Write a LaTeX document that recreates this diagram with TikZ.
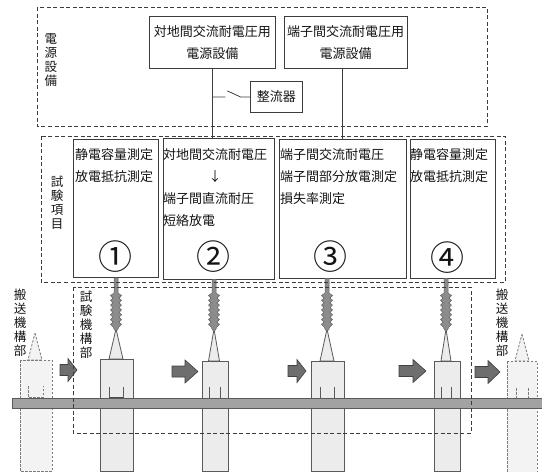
\documentclass[tikz,border=0pt]{standalone}
\usepackage{fontspec}
\setmainfont{Noto Sans CJK JP}
\usetikzlibrary{positioning}

\definecolor{boxline}{HTML}{3C3C3C}
\definecolor{partline}{HTML}{5A5A5A}
\definecolor{partfill}{HTML}{ECECEC}
\definecolor{ghostfill}{HTML}{F3F3F3}
\definecolor{railfill}{HTML}{A2A2A2}
\definecolor{insfill}{HTML}{8C8C8C}
\definecolor{pushfill}{HTML}{6E6E6E}

\begin{document}
\begin{tikzpicture}[x=1pt, y=-1pt, node distance=4pt,
  every node/.style={font=\fontsize{13}{22}\selectfont, text=black!92},
  pwbox/.style={rectangle, draw=boxline, line width=0.8pt, fill=white, align=center, inner sep=0pt},
  itembox/.style={rectangle, draw=boxline, line width=0.8pt, inner sep=0pt},
  itemtext/.style={align=left, inner sep=0pt, anchor=north west},
  vlabel/.style={align=center, inner sep=0pt, font=\fontsize{12.5}{14}\selectfont},
  numtext/.style={inner sep=0pt, font=\fontsize{34}{34}\selectfont},
  group/.style={draw=boxline, line width=0.8pt, dash pattern=on 4pt off 2.5pt},
  wire/.style={draw=boxline, line width=0.8pt},
  part/.style={draw=partline, fill=partfill, line width=0.8pt},
  ghost/.style={draw=partline!80, fill=ghostfill, line width=0.8pt, dash pattern=on 2.5pt off 1.5pt},
  push/.style={draw=black!75, fill=pushfill, line width=0.6pt}]
\useasboundingbox (0,0) rectangle (542,472);

% power supplies
\node[pwbox, minimum width=126pt, minimum height=52pt, anchor=north west] (acpw) at (149,16) {対地間交流耐電圧用\\電源設備};
\node[pwbox, minimum width=123pt, minimum height=52pt, right=8pt of acpw] (tpw) {端子間交流耐電圧用\\電源設備};
\node[pwbox, minimum width=52pt, minimum height=31pt, anchor=north west] (rect) at (250,81) {整流器};

% test stations
\node[itembox, minimum width=85pt, minimum height=138pt, anchor=north west] (item1) at (73,139) {};
\node[itembox, minimum width=111pt, minimum height=141pt, right=of item1] (item2) {};
\node[itembox, minimum width=127pt, minimum height=139pt, right=of item2] (item3) {};
\node[itembox, minimum width=85pt, minimum height=139pt, right=of item3] (item4) {};

\node[itemtext] (txt1) at (75,148) {静電容量測定\\放電抵抗測定};
\node[itemtext] (txt2) at (163,148) {対地間交流耐電圧\\\makebox[104pt]{↓}\\端子間直流耐圧\\短絡放電};
\node[itemtext] (txt3) at (280,148) {端子間交流耐電圧\\端子間部分放電測定\\損失率測定};
\node[itemtext] (txt4) at (410,148) {静電容量測定\\放電抵抗測定};

\node[numtext] (no1) at (115,257) {①};
\node[numtext] (no2) at (213,257) {②};
\node[numtext] (no3) at (330,257) {③};
\node[numtext] (no4) at (447,258) {④};

% feeders and rectifier switch
\draw[wire] (acpw.south) -- (acpw.south |- item2.north);
\draw[wire] ([xshift=-3pt]tpw.south) -- ([xshift=-3pt]tpw.south |- item3.north);
\coordinate (sw) at (acpw.south |- rect.west);
\draw[wire] (sw) -- ++(13,0) ++(2,-6) -- ++(13,6) -- (rect.west);

% specimens under test
\foreach \xl/\xr/\top/\c/\hw/\ml/\mr/\t in {100/133/359/116/7/109/123/item1,
    202/228/361/214/5.5/209/220/item2, 311/344/361/327/7/320/334/item3,
    434/460/361/446/5/441/451/item4} {
  \draw[part] (\c,329) -- (\c+\hw,\top) -- (\c-\hw,\top) -- cycle;
  \draw[part] (\xl,\top) rectangle (\xr,471);
  \draw[partline, line width=0.8pt] (\ml,387) -- (\ml,398) (\mr,387) -- (\mr,398);
  % bushing
  \draw[insfill!70!black, fill=insfill, line width=0.5pt] (\c-2,0 |- \t.south) -- (\c-2,293)
    \foreach \k in {0,...,6} { -- (\c-5.5,295.5+4.8*\k) -- (\c-3,298+4.8*\k) }
    -- (\c-1.5,330) -- (\c+1.5,330)
    \foreach \k in {6,...,0} { -- (\c+3,298+4.8*\k) -- (\c+5.5,295.5+4.8*\k) }
    -- (\c+2,293) -- (\c+2,0 |- \t.south) -- cycle;
}
\draw[black!70, line width=1pt] (109,397) -- (123,397);

% specimens on the conveyors
\draw[ghost] (35,333) -- (42,360) -- (28,360) -- cycle;
\draw[ghost] (20,360) rectangle (52,471);
\draw[ghost, fill=none] (28,386) -- (28,397) -- (43,397) -- (43,386);
\draw[ghost] (522,334) -- (529,361) -- (515,361) -- cycle;
\draw[ghost] (507,361) rectangle (537,472);
\draw[ghost] (516,388) -- (516,398) (528,388) -- (528,398);

% rail
\draw[draw=partline, fill=railfill, line width=0.8pt] (12,398) rectangle (546,408);

% feed arrows
\foreach \a/\b/\e/\m in {60/68/77/370, 172/185/198/371.5, 288/297/306/371, 399/413/426/371, 475/488/500/372} {
  \draw[push] (\a,\m-5.5) -- (\b,\m-5.5) -- (\b,\m-11.5) -- (\e,\m) -- (\b,\m+11.5) -- (\b,\m+5.5) -- (\a,\m+5.5) -- cycle;
}

% groups
\draw[group] (37,7) rectangle (487,126);
\draw[group] (41,136) rectangle (505,282);
\draw[group] (73,287) rectangle (471,433);

\node[vlabel] (pwlabel) at (51,60) {電\\源\\設\\備};
\node[vlabel] (itemlabel) at (57,203) {試\\験\\項\\目};
\node[vlabel] (mechlabel) at (86,325) {試\\験\\機\\構\\部};
\node[vlabel] (feedl) at (20,323) {搬\\送\\機\\構\\部};
\node[vlabel] (feedr) at (502,323) {搬\\送\\機\\構\\部};
\end{tikzpicture}
\end{document}
